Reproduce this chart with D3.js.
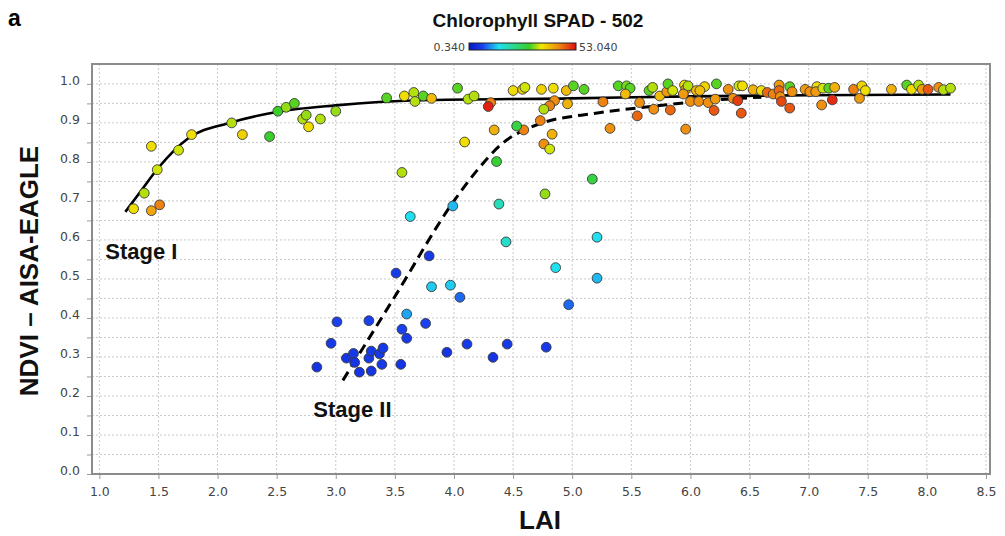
<!DOCTYPE html>
<html>
<head>
<meta charset="utf-8">
<script src="https://cdn.jsdelivr.net/npm/d3@7"></script>
<style>
  body { margin: 0; background: #fff; }
  svg { display: block; }
</style>
</head>
<body>
<svg id="chart" width="1005" height="536"></svg>
<script>
// measured points: LAI, NDVI and chlorophyll (SPAD) for each
var lai = [
  1.29, 1.38, 1.44, 1.51, 1.44, 1.49, 1.67, 1.78, 2.12, 2.21,
  2.44, 2.51, 2.58, 2.65, 2.72, 2.75, 2.77, 2.87, 3.00, 3.43,
  3.58, 3.66, 3.67, 3.56, 3.63, 3.74, 3.81, 4.03, 4.12, 4.17,
  4.31, 4.29, 4.50, 4.58, 4.60, 4.74, 4.84, 4.95, 5.01, 5.10,
  4.96, 4.85, 4.81, 4.76, 4.73, 4.59, 4.53, 4.34, 4.09, 4.83,
  4.76, 4.81, 4.36, 5.17, 4.77, 4.38, 3.99, 5.26, 5.32, 5.39,
  5.46, 5.49, 5.45, 5.57, 5.55, 5.65, 5.68, 5.69, 5.74, 5.80,
  5.81, 5.83, 5.85, 5.95, 5.96, 5.98, 5.96, 5.94, 6.05, 6.00,
  6.07, 6.12, 6.08, 6.15, 6.21, 6.20, 6.22, 6.32, 6.36, 6.40,
  6.41, 6.44, 6.43, 6.53, 6.60, 6.65, 6.70, 6.75, 6.75, 6.84,
  6.86, 6.76, 6.77, 6.84, 6.97, 7.01, 7.07, 7.06, 7.12, 7.17,
  7.22, 7.20, 7.11, 7.38, 7.45, 7.48, 7.43, 7.70, 7.83, 7.87,
  7.93, 7.96, 8.01, 8.10, 8.14, 8.20, 4.44, 3.79, 3.51, 4.86,
  3.81, 3.97, 4.05, 3.60, 4.97, 5.21, 5.21, 3.01, 3.28, 3.76,
  3.56, 3.60, 2.96, 2.84, 3.09, 3.15, 3.16, 3.20, 3.28, 3.30,
  3.37, 3.40, 3.39, 3.30, 3.55, 3.94, 4.11, 4.33, 4.45, 4.78
];
var ndvi = [
  0.680, 0.720, 0.675, 0.690, 0.840, 0.780, 0.830, 0.870, 0.900, 0.870,
  0.865, 0.930, 0.940, 0.950, 0.910, 0.920, 0.890, 0.910, 0.930, 0.964,
  0.969, 0.978, 0.955, 0.773, 0.660, 0.969, 0.963, 0.989, 0.961, 0.969,
  0.952, 0.942, 0.983, 0.986, 0.991, 0.986, 0.989, 0.983, 0.995, 0.986,
  0.949, 0.957, 0.944, 0.935, 0.906, 0.882, 0.892, 0.882, 0.851, 0.871,
  0.846, 0.833, 0.801, 0.756, 0.718, 0.692, 0.687, 0.954, 0.886, 0.995,
  0.995, 0.989, 0.974, 0.952, 0.918, 0.983, 0.991, 0.935, 0.969, 0.980,
  1.000, 0.933, 0.983, 0.997, 0.986, 0.995, 0.884, 0.974, 0.983, 0.955,
  0.955, 0.993, 0.983, 0.952, 0.961, 0.932, 1.000, 0.986, 0.963, 0.957,
  0.995, 0.995, 0.925, 0.985, 0.983, 0.978, 0.974, 0.997, 0.983, 0.993,
  0.980, 0.967, 0.955, 0.938, 0.986, 0.980, 0.993, 0.980, 0.989, 0.989,
  0.991, 0.959, 0.946, 0.986, 0.995, 0.983, 0.963, 0.986, 0.997, 0.986,
  0.997, 0.986, 0.986, 0.991, 0.985, 0.989, 0.595, 0.559, 0.515, 0.529,
  0.480, 0.484, 0.453, 0.410, 0.434, 0.607, 0.502, 0.390, 0.393, 0.386,
  0.371, 0.348, 0.335, 0.274, 0.297, 0.309, 0.286, 0.261, 0.297, 0.315,
  0.308, 0.323, 0.281, 0.264, 0.281, 0.312, 0.333, 0.299, 0.333, 0.325
];
var spad = [
  37, 34, 42, 45, 37, 35, 35, 37, 34, 38,
  30, 30, 33, 31, 34, 33, 37, 34, 33, 31,
  37, 34, 34, 34, 15, 31, 40, 31, 34, 34,
  45, 52, 37, 38, 35, 38, 37, 40, 31, 31,
  41, 44, 45, 34, 45, 45, 28, 41, 37, 41,
  44, 35, 29, 28, 33, 19, 13, 45, 44, 31,
  32, 31, 40, 44, 47, 31, 34, 44, 40, 43,
  31, 47, 35, 37, 43, 34, 44, 43, 40, 44,
  44, 38, 40, 44, 43, 48, 31, 44, 44, 50,
  35, 37, 48, 41, 37, 47, 45, 43, 47, 31,
  44, 44, 49, 48, 43, 44, 37, 43, 35, 31,
  41, 51, 44, 45, 38, 37, 43, 41, 31, 37,
  34, 43, 48, 44, 34, 34, 18, 6, 6, 15,
  14, 14, 9, 12, 9, 15, 13, 7, 7, 7,
  7, 6, 6, 5, 5, 6, 5, 5, 6, 6,
  6, 6, 6, 5, 5, 5, 6, 5, 6, 6
];

// fitted curves
var fitLai = [1.22, 1.35, 1.5, 1.75, 2.1, 2.5, 3.0, 3.7, 5.0, 6.0, 7.0, 8.2];
var fitNdvi = [0.672, 0.725, 0.785, 0.86, 0.9, 0.928, 0.945, 0.958, 0.963, 0.968, 0.971, 0.973];
var dashLai = [3.06, 3.5, 4.0, 4.2, 4.4, 4.7, 5.2, 5.7, 6.1, 6.6];
var dashNdvi = [0.24, 0.455, 0.70, 0.78, 0.845, 0.895, 0.925, 0.943, 0.956, 0.966];

var xTicks = [1.0, 1.5, 2.0, 2.5, 3.0, 3.5, 4.0, 4.5, 5.0, 5.5, 6.0, 6.5, 7.0, 7.5, 8.0, 8.5];
var yTicks = [0.0, 0.1, 0.2, 0.3, 0.4, 0.5, 0.6, 0.7, 0.8, 0.9, 1.0];
var spadMin = 0.34, spadMax = 53.04;

var svg = d3.select('#chart');
var plotL = 92, plotR = 990, plotT = 64, plotB = 474;

var x = d3.scaleLinear().domain([0.938, 8.534]).range([plotL, plotR]);
var y = d3.scaleLinear().domain([0, 1.051]).range([plotB, plotT]);

var color = d3.scaleLinear()
  .domain([spadMin, 7, 15, 30, 36, 44, spadMax])
  .range(['#0818c0', '#1a40f0', '#20e0f0', '#38d028', '#f0e800', '#f09010', '#e01010'])
  .clamp(true);

// gridlines, every 0.5 LAI and every 0.05 NDVI
var gridY = d3.range(1, 21).map(i => i * 0.05);
var grid = svg.append('g').attr('stroke', '#c9c9c9').attr('stroke-dasharray', '2,2');
grid.selectAll('line.gx').data(xTicks).enter().append('line')
  .attr('x1', d => x(d)).attr('x2', d => x(d))
  .attr('y1', plotT).attr('y2', plotB);
grid.selectAll('line.gy').data(gridY).enter().append('line')
  .attr('x1', plotL).attr('x2', plotR)
  .attr('y1', d => y(d)).attr('y2', d => y(d));

// axes
var xAxis = svg.append('g').attr('transform', 'translate(0,' + (plotB + 1) + ')')
  .call(d3.axisBottom(x).tickValues(xTicks).tickFormat(d3.format('.1f')).tickSize(4).tickPadding(6));
var yAxis = svg.append('g').attr('transform', 'translate(' + (plotL - 1) + ',0)')
  .call(d3.axisLeft(y).tickValues([0].concat(gridY)).tickSize(4).tickPadding(7)
    .tickFormat(d => yTicks.some(t => Math.abs(t - d) < 1e-6) ? d3.format('.1f')(d) : ''));
[xAxis, yAxis].forEach(function(a) {
  a.select('.domain').remove();
  a.selectAll('line').attr('stroke', '#999');
  a.selectAll('text').attr('font-family', 'DejaVu Sans, sans-serif')
    .attr('font-size', '12.5px').attr('fill', '#444');
});
yAxis.selectAll('text').attr('dy', '0.05em');
xAxis.selectAll('text').attr('dy', '0.9em');

// plot frame
svg.append('rect')
  .attr('x', plotL).attr('y', plotT)
  .attr('width', plotR - plotL).attr('height', plotB - plotT)
  .attr('fill', 'none').attr('stroke', '#8c8c8c').attr('stroke-width', 2);

// fitted curves
var line = d3.line().x(d => x(d[0])).y(d => y(d[1])).curve(d3.curveMonotoneX);
svg.append('path')
  .attr('d', line(d3.zip(fitLai, fitNdvi)))
  .attr('fill', 'none').attr('stroke', '#000').attr('stroke-width', 2.6);
svg.append('path')
  .attr('d', line(d3.zip(dashLai, dashNdvi)))
  .attr('fill', 'none').attr('stroke', '#000').attr('stroke-width', 3)
  .attr('stroke-dasharray', '10,6');

// points
svg.append('g').selectAll('circle')
  .data(d3.range(lai.length))
  .enter()
  .append('circle')
  .attr('cx', i => x(lai[i]))
  .attr('cy', i => y(ndvi[i]))
  .attr('r', 4.9)
  .attr('fill', i => color(spad[i]))
  .attr('stroke', '#3a3a3a')
  .attr('stroke-width', 0.9);

// stage labels
svg.append('text')
  .attr('x', x(1.05)).attr('y', y(0.551))
  .attr('font-family', 'Liberation Sans, Arial, sans-serif')
  .attr('font-weight', 'bold').attr('font-size', '22px').attr('fill', '#111')
  .text('Stage I');
svg.append('text')
  .attr('x', x(2.81)).attr('y', y(0.146))
  .attr('font-family', 'Liberation Sans, Arial, sans-serif')
  .attr('font-weight', 'bold').attr('font-size', '22px').attr('fill', '#111')
  .text('Stage II');

// panel letter, title and colour bar
svg.append('text')
  .attr('x', 8).attr('y', 26)
  .attr('font-family', 'Liberation Sans, Arial, sans-serif')
  .attr('font-weight', 'bold').attr('font-size', '23px')
  .text('a');
svg.append('text')
  .attr('x', 538).attr('y', 27).attr('text-anchor', 'middle')
  .attr('font-family', 'Liberation Sans, Arial, sans-serif')
  .attr('font-weight', 'bold').attr('font-size', '19px').attr('fill', '#111')
  .text('Chlorophyll SPAD - 502');

var barX = 469, barW = 107, barY = 43, barH = 7;
var grad = svg.append('defs').append('linearGradient').attr('id', 'spadGrad');
grad.selectAll('stop')
  .data(color.domain())
  .enter().append('stop')
  .attr('offset', d => ((d - spadMin) / (spadMax - spadMin) * 100) + '%')
  .attr('stop-color', d => color(d));
svg.append('rect')
  .attr('x', barX).attr('y', barY).attr('width', barW).attr('height', barH)
  .attr('fill', 'url(#spadGrad)').attr('stroke', '#222').attr('stroke-width', 1);
svg.append('text')
  .attr('x', barX - 4).attr('y', barY + barH + 1).attr('text-anchor', 'end')
  .attr('font-family', 'DejaVu Sans, sans-serif').attr('font-size', '11px').attr('fill', '#444')
  .text(spadMin.toFixed(3));
svg.append('text')
  .attr('x', barX + barW + 3).attr('y', barY + barH + 1)
  .attr('font-family', 'DejaVu Sans, sans-serif').attr('font-size', '11px').attr('fill', '#444')
  .text(spadMax.toFixed(3));

// axis titles
svg.append('text')
  .attr('x', 540).attr('y', 529).attr('text-anchor', 'middle')
  .attr('font-family', 'Liberation Sans, Arial, sans-serif')
  .attr('font-weight', 'bold').attr('font-size', '26px').attr('fill', '#111')
  .text('LAI');
svg.append('text')
  .attr('transform', 'translate(38,271) rotate(-90)')
  .attr('text-anchor', 'middle')
  .attr('font-family', 'Liberation Sans, Arial, sans-serif')
  .attr('font-weight', 'bold').attr('font-size', '26px').attr('fill', '#111')
  .text('NDVI \u2013 AISA-EAGLE');
</script>
</body>
</html>
